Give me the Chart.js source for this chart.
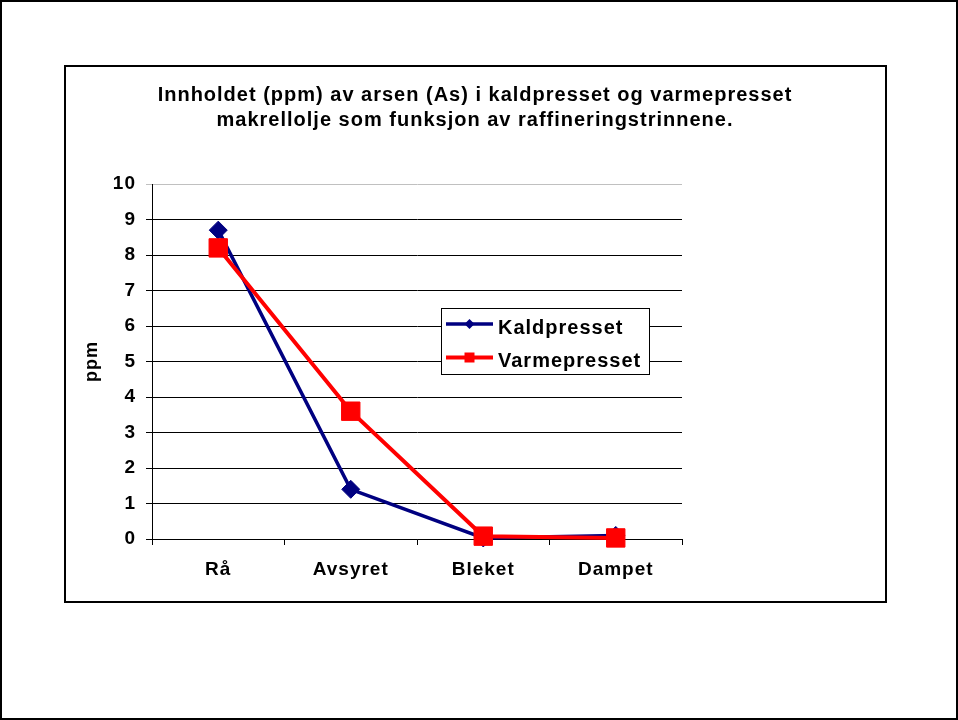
<!DOCTYPE html>
<html><head><meta charset="utf-8">
<script src="https://cdn.jsdelivr.net/npm/chart.js@4"></script>
<style>
html,body{margin:0;padding:0;background:#fff;}
#wrap{position:relative;width:958px;height:720px;overflow:hidden;}
#c{position:absolute;left:0;top:0;}
.frame{position:absolute;border:2px solid #000;box-sizing:border-box;pointer-events:none;}
#outer{left:0;top:0;width:958px;height:720px;}
#inner{left:64px;top:65px;width:823px;height:538px;}
</style></head>
<body>
<div id="wrap">
<canvas id="c" width="958" height="720"></canvas>
<div class="frame" id="outer"></div>
<div class="frame" id="inner"></div>
</div>
<script>
const categories = ['Rå', 'Avsyret', 'Bleket', 'Dampet'];
const kaldpresset = [8.7, 1.4, 0.03, 0.1];
const varmepresset = [8.2, 3.6, 0.08, 0.03];
const seriesNames = ['Kaldpresset', 'Varmepresset'];
const titleLines = ['Innholdet (ppm) av arsen (As) i kaldpresset og varmepresset',
                    'makrellolje som funksjon av raffineringstrinnene.'];
const yAxisTitle = 'ppm';
const yMin = 0, yMax = 10, yStep = 1;

const FONT = "'Liberation Sans', Arial, sans-serif";
const SPACING = '1px';

const spacingPlugin = {
  id: 'spacing',
  beforeDraw(chart) { chart.ctx.letterSpacing = SPACING; }
};

const boxLegend = {
  id: 'boxLegend',
  afterDatasetsDraw(chart) {
    const ctx = chart.ctx;
    const x0 = 441.5, y0 = 308.5, w = 208, h = 66;
    ctx.save();
    ctx.letterSpacing = SPACING;
    ctx.fillStyle = '#fff';
    ctx.fillRect(x0, y0, w, h);
    ctx.strokeStyle = '#000';
    ctx.lineWidth = 1;
    ctx.strokeRect(x0, y0, w, h);
    const rows = [324, 357.5];
    chart.data.datasets.forEach((ds, i) => {
      const y = rows[i];
      ctx.strokeStyle = ds.borderColor;
      ctx.lineWidth = ds.borderWidth;
      ctx.beginPath();
      ctx.moveTo(446, y);
      ctx.lineTo(493, y);
      ctx.stroke();
      ctx.fillStyle = ds.pointBackgroundColor;
      const cx = 469.5;
      ctx.beginPath();
      if (ds.pointStyle === 'rectRot') {
        const r = 5;
        ctx.moveTo(cx - r, y); ctx.lineTo(cx, y - r); ctx.lineTo(cx + r, y); ctx.lineTo(cx, y + r);
        ctx.closePath();
      } else {
        ctx.rect(cx - 5, y - 5, 10, 10);
      }
      ctx.fill();
      ctx.fillStyle = '#000';
      ctx.font = 'bold 20px ' + FONT;
      ctx.textAlign = 'left';
      ctx.textBaseline = 'alphabetic';
      ctx.fillText(ds.label, 498, y + 9.5);
    });
    ctx.restore();
  }
};

new Chart(document.getElementById('c'), {
  type: 'line',
  data: {
    labels: categories,
    datasets: [
      {
        label: seriesNames[0], data: kaldpresset,
        borderColor: '#000080', backgroundColor: '#000080',
        pointBackgroundColor: '#000080', pointBorderColor: '#000080',
        borderWidth: 3.5, pointStyle: 'rectRot', pointRadius: 9, pointBorderWidth: 1,
        tension: 0, fill: false, clip: false, order: 1
      },
      {
        label: seriesNames[1], data: varmepresset,
        borderColor: '#ff0000', backgroundColor: '#ff0000',
        pointBackgroundColor: '#ff0000', pointBorderColor: '#ff0000',
        borderWidth: 4, pointStyle: 'rect', pointRadius: 13, pointBorderWidth: 1,
        tension: 0, fill: false, clip: false, order: 0
      }
    ]
  },
  options: {
    responsive: false, animation: false, devicePixelRatio: 1,
    layout: { padding: { left: 64, right: 72, top: 0, bottom: 0 } },
    plugins: {
      legend: { display: false },
      tooltip: { enabled: false },
      title: {
        display: true, text: titleLines, color: '#000',
        font: { family: FONT, size: 20, weight: 'bold', lineHeight: 1.25 },
        padding: { top: 83, bottom: 51 }
      }
    },
    scales: {
      x: {
        type: 'category', offset: true,
        grid: { offset: true, drawOnChartArea: false, drawTicks: true, tickLength: 6, color: '#000', lineWidth: 1 },
        border: { display: true, color: '#000', width: 1 },
        ticks: { color: '#000', font: { family: FONT, size: 19, weight: 'bold' }, padding: 13, maxRotation: 0, autoSkip: false },
        afterFit(s) { s.height = 181; }
      },
      y: {
        type: 'linear', position: 'left', min: yMin, max: yMax,
        ticks: { stepSize: yStep, color: '#000', font: { family: FONT, size: 19, weight: 'bold' }, padding: 10 },
        grid: { color: c => (c.tick && c.tick.value === yMax) ? '#c0c0c0' : '#000', lineWidth: 1, tickLength: 6 },
        border: { color: '#000', width: 1 },
        title: { display: true, text: yAxisTitle, color: '#000', font: { family: FONT, size: 18, weight: 'bold' }, padding: { top: 17, bottom: 0 } },
        afterFit(s) { s.width = 88; }
      },
      yR: {
        type: 'linear', position: 'right', display: true,
        grid: { display: false }, border: { display: false }, ticks: { display: false },
        afterFit(s) { s.width = 204; }
      }
    }
  },
  plugins: [spacingPlugin, boxLegend]
});
</script>
</body></html>
